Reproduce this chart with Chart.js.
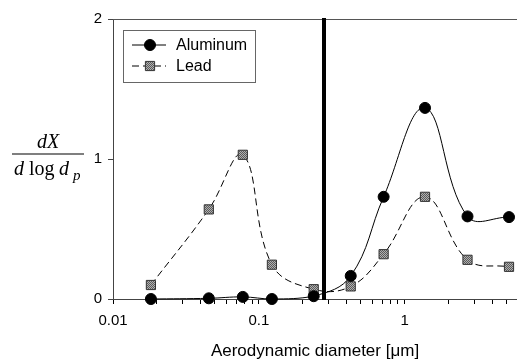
<!DOCTYPE html>
<html>
<head>
<meta charset="utf-8">
<script src="https://cdn.jsdelivr.net/npm/chart.js@4"></script>
<style>
  body { margin: 0; background: #fff; }
  #wrap { width: 517px; height: 364px; }
</style>
</head>
<body>
<div id="wrap"><canvas id="chart" width="517" height="364"></canvas></div>
<script>
// aerodynamic diameter (um) of each impactor stage
const diameters = [0.0182, 0.0454, 0.0777, 0.123, 0.238, 0.427, 0.718, 1.38, 2.7, 5.2];
const aluminum = [0.0, 0.005, 0.015, 0.0, 0.02, 0.165, 0.73, 1.365, 0.59, 0.585];
const lead = [0.1, 0.64, 1.03, 0.245, 0.07, 0.09, 0.32, 0.73, 0.28, 0.23];
const seriesNames = ['Aluminum', 'Lead'];

const xMin = 0.01, xMax = 5.9;
const xTicks = [0.01,0.02,0.03,0.04,0.05,0.06,0.07,0.08,0.09,
                0.1,0.2,0.3,0.4,0.5,0.6,0.7,0.8,0.9,
                1,2,3,4,5];
const xLabels = [0.01, 0.1, 1];
const yTicks = [0, 1, 2];
const cutSize = 0.28; // vertical marker line

const ctx = document.getElementById('chart').getContext('2d');

// grey checker fill for the lead squares
const pat = document.createElement('canvas');
pat.width = 2; pat.height = 2;
const pc = pat.getContext('2d');
pc.fillStyle = '#b0b0b0'; pc.fillRect(0, 0, 2, 2);
pc.fillStyle = '#5a5a5a'; pc.fillRect(0, 0, 1, 1); pc.fillRect(1, 1, 1, 1);
const checker = ctx.createPattern(pat, 'repeat');

const extras = {
  id: 'extras',
  afterDatasetsDraw(chart) {
    const c = chart.ctx;
    const a = chart.chartArea;
    const xs = chart.scales.x;
    c.save();
    // top frame line
    c.strokeStyle = '#555';
    c.lineWidth = 1;
    c.beginPath();
    c.moveTo(a.left, a.top + 0.5);
    c.lineTo(a.right, a.top + 0.5);
    c.stroke();
    // thick vertical cut line
    const vx = xs.getPixelForValue(cutSize);
    c.strokeStyle = '#000';
    c.lineWidth = 4;
    c.beginPath();
    c.moveTo(vx, a.top - 1);
    c.lineTo(vx, a.bottom + 1);
    c.stroke();

    // legend
    const lx = a.left + 10, ly = a.top + 11;
    c.fillStyle = '#fff';
    c.fillRect(lx, ly, 132, 52);
    c.strokeStyle = '#666';
    c.lineWidth = 1;
    c.strokeRect(lx + 0.5, ly + 0.5, 132, 52);
    c.font = '16px "Liberation Sans", Arial, sans-serif';
    c.textBaseline = 'middle';
    c.textAlign = 'left';
    chart.data.datasets.forEach((ds, i) => {
      const y = ly + 15 + i * 21;
      c.strokeStyle = '#000';
      c.lineWidth = 1;
      c.setLineDash(ds.borderDash || []);
      c.beginPath();
      c.moveTo(lx + 9, y);
      c.lineTo(lx + 43, y);
      c.stroke();
      c.setLineDash([]);
      c.fillStyle = ds.pointBackgroundColor;
      c.strokeStyle = ds.pointBorderColor;
      c.lineWidth = 1;
      c.beginPath();
      if (ds.pointStyle === 'rect') {
        const s = ds.pointRadius * Math.SQRT1_2;
        c.rect(lx + 27 - s, y - s, 2 * s, 2 * s);
      } else {
        c.arc(lx + 27, y, ds.pointRadius, 0, Math.PI * 2);
      }
      c.fill();
      c.stroke();
      c.fillStyle = '#000';
      c.fillText(ds.label, lx + 53, y + 1);
    });

    // y axis title as a fraction
    c.fillStyle = '#000';
    c.textAlign = 'center';
    c.textBaseline = 'alphabetic';
    c.font = 'italic 20px "Liberation Serif", "Times New Roman", serif';
    c.fillText('dX', 48, 148);
    c.lineWidth = 1.2;
    c.strokeStyle = '#000';
    c.beginPath();
    c.moveTo(12, 154);
    c.lineTo(84, 154);
    c.stroke();
    c.textAlign = 'left';
    c.font = 'italic 20px "Liberation Serif", "Times New Roman", serif';
    c.fillText('d', 14, 175);
    c.font = '20px "Liberation Serif", "Times New Roman", serif';
    c.fillText('log', 29, 175);
    c.font = 'italic 20px "Liberation Serif", "Times New Roman", serif';
    c.fillText('d', 59, 175);
    c.font = 'italic 15px "Liberation Serif", "Times New Roman", serif';
    c.fillText('p', 73, 180);
    c.restore();
  }
};

const chart = new Chart(ctx, {
  type: 'line',
  data: {
    datasets: [{
      label: seriesNames[0],
      data: diameters.map((d, i) => ({ x: d, y: aluminum[i] })),
      borderColor: '#000',
      borderWidth: 1,
      tension: 0.4,
      pointStyle: 'circle',
      pointRadius: 5.5,
      pointBackgroundColor: '#000',
      pointBorderColor: '#000',
      clip: false
    }, {
      label: seriesNames[1],
      data: diameters.map((d, i) => ({ x: d, y: lead[i] })),
      borderColor: '#000',
      borderWidth: 1,
      borderDash: [7, 4],
      tension: 0.4,
      pointStyle: 'rect',
      pointRadius: 6.5,
      pointBackgroundColor: checker,
      pointBorderColor: '#333',
      pointBorderWidth: 1,
      clip: false
    }]
  },
  options: {
    responsive: false,
    animation: false,
    layout: { autoPadding: false, padding: { top: 19, right: 0, left: 0, bottom: 0 } },
    plugins: { legend: { display: false }, tooltip: { enabled: false } },
    scales: {
      x: {
        type: 'logarithmic',
        min: xMin,
        max: xMax,
        afterBuildTicks: s => { s.ticks = xTicks.map(v => ({ value: v })); },
        afterFit: s => { s.height = 65; s.paddingRight = 0; },
        ticks: {
          autoSkip: false,
          maxRotation: 0,
          padding: 8,
          color: '#000',
          font: { family: '"Liberation Sans", Arial, sans-serif', size: 15 },
          callback: v => xLabels.includes(Number(v.toPrecision(3))) ? String(v) : ''
        },
        grid: { drawOnChartArea: false, drawTicks: true, tickLength: 5, color: '#000' },
        border: { color: '#444', width: 1 },
        title: {
          display: true,
          text: 'Aerodynamic diameter [μm]',
          color: '#000',
          font: { family: '"Liberation Sans", Arial, sans-serif', size: 17 },
          padding: { top: 0, bottom: 2 }
        }
      },
      y: {
        min: 0,
        max: 2,
        afterBuildTicks: s => { s.ticks = yTicks.map(v => ({ value: v })); },
        afterFit: s => { s.width = 113; },
        ticks: {
          padding: 6,
          color: '#000',
          font: { family: '"Liberation Sans", Arial, sans-serif', size: 15 }
        },
        grid: { drawOnChartArea: false, drawTicks: true, tickLength: 5, color: '#444' },
        border: { color: '#444', width: 1 }
      }
    }
  },
  plugins: [extras]
});
</script>
</body>
</html>
